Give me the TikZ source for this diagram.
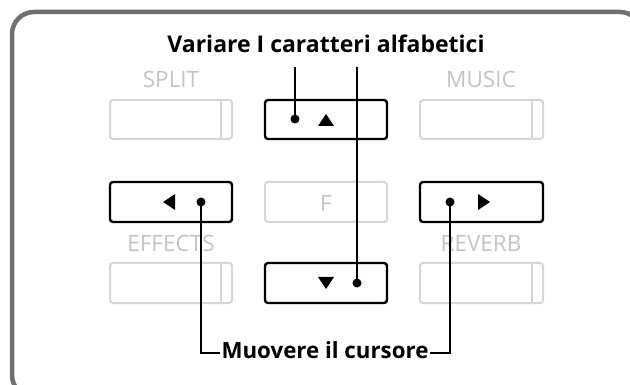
\documentclass[tikz,border=0pt]{standalone}
\usepackage{fontspec}
\setmainfont{Open Sans}
\begin{document}
\begin{tikzpicture}[x=1pt,y=-1pt,
  frame/.style={draw=framegray,line width=4.5pt,rounded corners=22pt},
  graybtn/.style={draw=btngray,line width=2pt,rounded corners=3pt},
  blackbtn/.style={draw=black,line width=2.4pt,rounded corners=3pt},
  graylbl/.style={text=lblgray,font=\fontsize{22.5}{26}\selectfont,anchor=base,inner sep=0pt},
  boldlbl/.style={text=black,font=\fontsize{23}{26}\selectfont\bfseries,anchor=base,inner sep=0pt},
  dotnode/.style={circle,fill=black,inner sep=0pt,minimum size=9pt},
  lead/.style={draw=black,line width=1.2pt},
  tri/.style={fill=black}]
\definecolor{framegray}{HTML}{707070}
\definecolor{btngray}{HTML}{D6D6D6}
\definecolor{lblgray}{HTML}{C4C4C4}
\useasboundingbox (0,0) rectangle (630,385);
\fill[white] (0,0) rectangle (630,385);
\begin{scope}
\clip (0,0) rectangle (630,385);
\draw[frame] (12,12) rectangle (642,397);
\end{scope}
% gray labels
\node[graylbl] (lsplit) at (171,88) {SPLIT};
\node[graylbl] (lmusic) at (481,88) {MUSIC};
\node[graylbl] (leffects) at (171,252) {EFFECTS};
\node[graylbl] (lreverb) at (481,252) {REVERB};
% gray buttons
\draw[graybtn] (110,100) rectangle (232,139); \draw[btngray,line width=2pt] (221,100) -- (221,139);
\draw[graybtn] (420,100) rectangle (543,139); \draw[btngray,line width=2pt] (532,100) -- (532,139);
\draw[graybtn] (110,263) rectangle (232,303); \draw[btngray,line width=2pt] (221,263) -- (221,303);
\draw[graybtn] (420,263) rectangle (543,303); \draw[btngray,line width=2pt] (532,263) -- (532,303);
\draw[graybtn] (265,182) rectangle (387,222);
\node[graylbl,anchor=center] (lf) at (326,203) {F};
% black buttons
\draw[blackbtn] (265,100) rectangle (387,139);
\draw[blackbtn] (110,182) rectangle (232,222);
\draw[blackbtn] (420,182) rectangle (543,222);
\draw[blackbtn] (265,263) rectangle (387,303);
% triangles
\fill[tri] (318,126) -- (334,126) -- (326,114) -- cycle;
\fill[tri] (318,277) -- (334,277) -- (326,289) -- cycle;
\fill[tri] (175,194) -- (175,210) -- (163,202) -- cycle;
\fill[tri] (478,194) -- (478,210) -- (490,202) -- cycle;
% dots
\node[dotnode] (dup) at (295,119) {};
\node[dotnode] (ddown) at (357,283) {};
\node[dotnode] (dleft) at (201,202) {};
\node[dotnode] (dright) at (450,202) {};
% texts
\node[boldlbl] (title) at (326,53) {Variare I caratteri alfabetici};
\node[boldlbl,font=\fontsize{22.3}{26}\selectfont\bfseries] (cursor) at (325,358) {Muovere il cursore};
% leaders
\coordinate (tup) at (295,67);
\coordinate (tdown) at (357,67);
\coordinate (cl) at (220,353);
\coordinate (cr) at (430,353);
\draw[lead] (dup.center) -- (tup);
\draw[lead] (ddown.center) -- (tdown);
\draw[lead] (dleft.center) |- (cl);
\draw[lead] (dright.center) |- (cr);
\end{tikzpicture}
\end{document}
